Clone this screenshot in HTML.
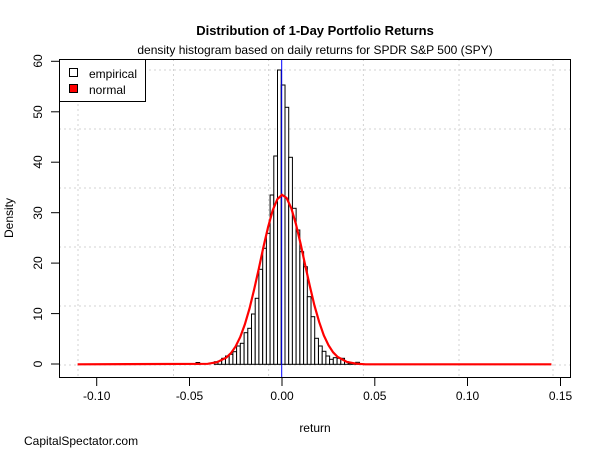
<!DOCTYPE html>
<html><head><style>body{margin:0;background:#fff}svg{display:block;font-family:"Liberation Sans",Arial,sans-serif}</style></head>
<body>
<svg width="600" height="450" xmlns="http://www.w3.org/2000/svg">
<rect width="600" height="450" fill="#fff"/>
<g stroke="#d3d3d3" stroke-dasharray="2,3" stroke-width="1">
<line x1="78" y1="59" x2="78" y2="377"/><line x1="173.5" y1="59" x2="173.5" y2="377"/><line x1="268.6" y1="59" x2="268.6" y2="377"/><line x1="363.4" y1="59" x2="363.4" y2="377"/><line x1="459" y1="59" x2="459" y2="377"/><line x1="553" y1="59" x2="553" y2="377"/>
<line x1="59" y1="70" x2="571" y2="70"/><line x1="59" y1="129" x2="571" y2="129"/><line x1="59" y1="188" x2="571" y2="188"/><line x1="59" y1="247" x2="571" y2="247"/><line x1="59" y1="306" x2="571" y2="306"/><line x1="59" y1="365" x2="571" y2="365"/>
</g>
<g fill="#fff" stroke="#000" stroke-width="1">
<rect x="196" y="362.5" width="3.7" height="1.8"/>
<rect x="214.3" y="361.7" width="3.72" height="2.6"/>
<rect x="218.0" y="361.0" width="3.72" height="3.3"/>
<rect x="221.7" y="358.3" width="3.72" height="6.0"/>
<rect x="225.5" y="356.0" width="3.72" height="8.3"/>
<rect x="229.2" y="354.3" width="3.72" height="10.0"/>
<rect x="232.9" y="351.7" width="3.72" height="12.6"/>
<rect x="236.6" y="346.0" width="3.72" height="18.3"/>
<rect x="240.3" y="343.3" width="3.72" height="21.0"/>
<rect x="244.1" y="332.7" width="3.72" height="31.6"/>
<rect x="247.8" y="328.3" width="3.72" height="36.0"/>
<rect x="251.5" y="314.0" width="3.72" height="50.3"/>
<rect x="255.2" y="298.3" width="3.72" height="66.0"/>
<rect x="258.9" y="269.3" width="3.72" height="95.0"/>
<rect x="262.7" y="248.3" width="3.72" height="116.0"/>
<rect x="266.4" y="233.3" width="3.72" height="131.0"/>
<rect x="270.1" y="195.0" width="3.72" height="169.3"/>
<rect x="273.8" y="156.0" width="3.72" height="208.3"/>
<rect x="277.5" y="70.0" width="3.72" height="294.3"/>
<rect x="281.3" y="85.0" width="3.72" height="279.3"/>
<rect x="285.0" y="107.3" width="3.72" height="257.0"/>
<rect x="288.7" y="157.3" width="3.72" height="207.0"/>
<rect x="292.4" y="208.3" width="3.72" height="156.0"/>
<rect x="296.1" y="230.0" width="3.72" height="134.3"/>
<rect x="299.9" y="251.7" width="3.72" height="112.6"/>
<rect x="303.6" y="266.7" width="3.72" height="97.6"/>
<rect x="307.3" y="296.7" width="3.72" height="67.6"/>
<rect x="311.0" y="316.7" width="3.72" height="47.6"/>
<rect x="314.7" y="338.3" width="3.72" height="26.0"/>
<rect x="318.5" y="346.0" width="3.72" height="18.3"/>
<rect x="322.2" y="351.3" width="3.72" height="13.0"/>
<rect x="325.9" y="356.0" width="3.72" height="8.3"/>
<rect x="329.6" y="359.3" width="3.72" height="5.0"/>
<rect x="333.3" y="357.7" width="3.72" height="6.6"/>
<rect x="337.1" y="358.3" width="3.72" height="6.0"/>
<rect x="340.8" y="358.3" width="3.72" height="6.0"/>
<rect x="344.5" y="361.7" width="3.72" height="2.6"/>
<rect x="348.2" y="363.3" width="3.72" height="1.0"/>
<rect x="351.9" y="363.3" width="3.72" height="1.0"/>
<rect x="355.7" y="362.3" width="3.72" height="2.0"/>
</g>
<line x1="281.7" y1="59" x2="281.7" y2="377" stroke="#0000ff" stroke-width="1"/>
<polyline fill="none" stroke="#ff0000" stroke-width="2.2" points="77.6,364.3 207.7,363.8 217,362.2 226.3,357.6 230.9,353.2 235.6,346.5 240.2,337.1 244.8,324.5 249.5,308.6 254.1,289.6 258.8,268.7 263.4,247.1 268.1,227 272.7,210.3 277.4,199.1 282,194.8 286.6,198 291.3,208.2 295.9,224 300.6,243.8 305.2,265.2 309.9,286.4 314.5,305.7 319.2,322.1 323.8,335.3 328.5,345.2 333.1,352.3 337.7,357 347,362 356.3,363.7 365.6,364.3 551.4,364.3"/>
<rect x="59.5" y="59.5" width="511" height="318" fill="none" stroke="#000"/>
<g stroke="#000">
<line x1="51" y1="61.3" x2="59" y2="61.3"/><line x1="51" y1="111.8" x2="59" y2="111.8"/><line x1="51" y1="162.2" x2="59" y2="162.2"/><line x1="51" y1="212.7" x2="59" y2="212.7"/><line x1="51" y1="263.1" x2="59" y2="263.1"/><line x1="51" y1="313.6" x2="59" y2="313.6"/><line x1="51" y1="364" x2="59" y2="364"/>
<line x1="96.7" y1="378" x2="96.7" y2="386"/><line x1="189.5" y1="378" x2="189.5" y2="386"/><line x1="282" y1="378" x2="282" y2="386"/><line x1="374.8" y1="378" x2="374.8" y2="386"/><line x1="467.5" y1="378" x2="467.5" y2="386"/><line x1="560.5" y1="378" x2="560.5" y2="386"/>
</g>
<g font-size="12" fill="#000" text-anchor="middle">
<text transform="translate(42,61) rotate(-90)">60</text>
<text transform="translate(42,112) rotate(-90)">50</text>
<text transform="translate(42,162) rotate(-90)">40</text>
<text transform="translate(42,213) rotate(-90)">30</text>
<text transform="translate(42,263) rotate(-90)">20</text>
<text transform="translate(42,314) rotate(-90)">10</text>
<text transform="translate(42,364) rotate(-90)">0</text>
<text x="96.7" y="400">-0.10</text><text x="189.5" y="400">-0.05</text><text x="282" y="400">0.00</text><text x="374.8" y="400">0.05</text><text x="467.5" y="400">0.10</text><text x="560.5" y="400">0.15</text>
<text x="315" y="432">return</text>
<text transform="translate(13,218) rotate(-90)">Density</text>
<text x="315" y="54">density histogram based on daily returns for SPDR S&amp;P 500 (SPY)</text>
<text x="315" y="35" font-weight="bold" font-size="13">Distribution of 1-Day Portfolio Returns</text>
</g>
<text x="24" y="445" font-size="12">CapitalSpectator.com</text>
<rect x="59.5" y="59.5" width="86" height="42" fill="#fff" stroke="#000"/>
<rect x="69.5" y="68.5" width="8" height="8" fill="#fff" stroke="#000"/>
<rect x="69.5" y="84.5" width="8" height="8" fill="#ff0000" stroke="#000"/>
<text x="89" y="78" font-size="12">empirical</text>
<text x="89" y="94" font-size="12">normal</text>
</svg>
</body></html>
